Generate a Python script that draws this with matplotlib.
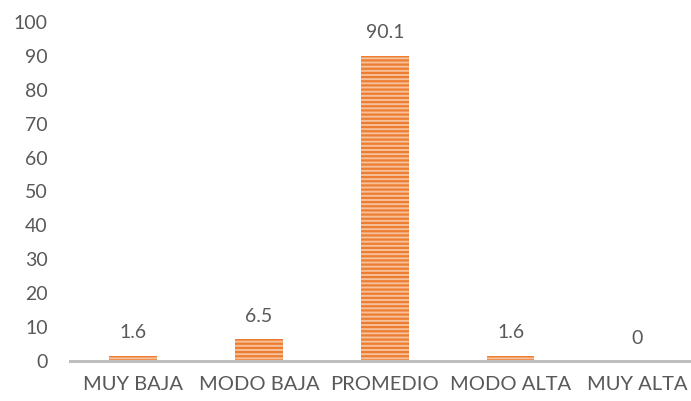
import matplotlib
matplotlib.use("Agg")
import matplotlib.pyplot as plt

categories = ["MUY BAJA", "MODO BAJA", "PROMEDIO", "MODO ALTA", "MUY ALTA"]
values = [1.6, 6.5, 90.1, 1.6, 0]
labels = ["1.6", "6.5", "90.1", "1.6", "0"]
yticks = [0, 10, 20, 30, 40, 50, 60, 70, 80, 90, 100]

plt.rcParams['font.family'] = ['Lato', 'DejaVu Sans']
plt.rcParams['hatch.linewidth'] = 1.6
plt.rcParams['hatch.color'] = '#ED7D31'

txt = '#595959'
fig = plt.figure(figsize=(6.91, 4.01), dpi=100)
ax = fig.add_axes([70/691, 40/401, 621/691, 339/401])
x = list(range(len(categories)))
bars = ax.bar(x, values, width=0.375, color='#F6C09A', hatch='----',
              edgecolor='#ED7D31', linewidth=0)
for xi, v, lab in zip(x, values, labels):
    ax.text(xi, v + 4.2, lab, ha='center', va='bottom', fontsize=14, color=txt)

ax.set_xlim(-0.5, 4.43)
ax.set_ylim(0, 100)
ax.set_yticks(yticks)
ax.set_yticklabels([str(t) for t in yticks])
ax.set_xticks(x)
ax.set_xticklabels(categories)
ax.tick_params(axis='both', length=0, labelsize=14, colors=txt)
ax.tick_params(axis='x', labelsize=14.5, pad=11)
ax.tick_params(axis='y', pad=16)
for s in ['top', 'right', 'left']:
    ax.spines[s].set_visible(False)
ax.spines['bottom'].set_color('#BFBFBF')
ax.spines['bottom'].set_linewidth(2.2)
fig.savefig('out.png', dpi=100)
